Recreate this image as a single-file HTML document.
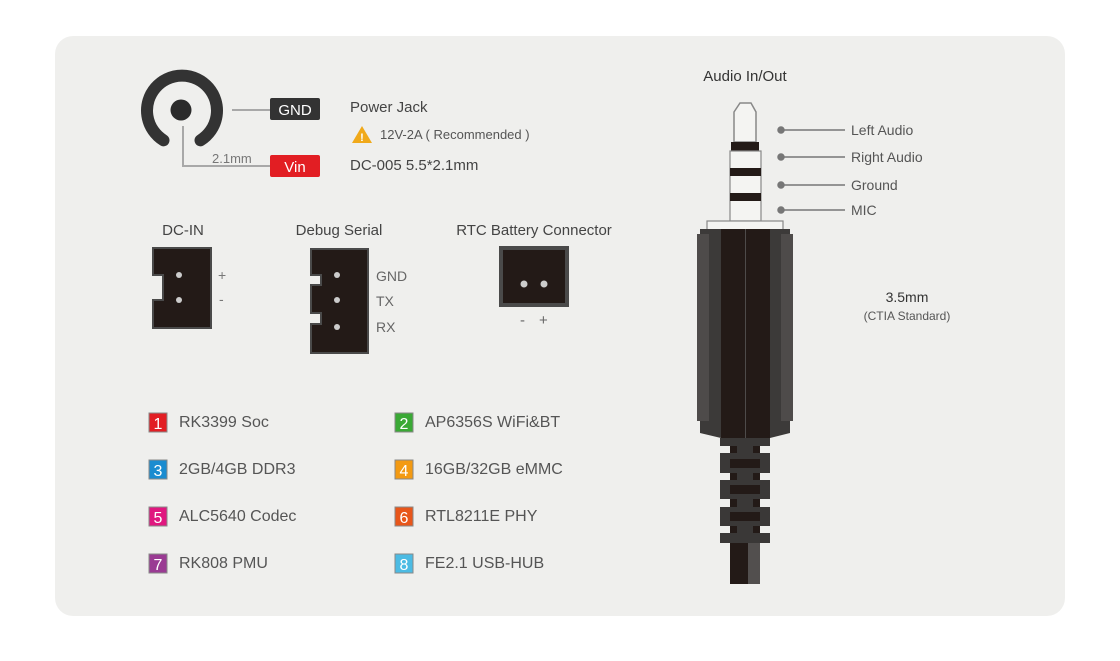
<!DOCTYPE html>
<html><head><meta charset="utf-8"><style>
html,body{margin:0;padding:0;background:#fff;}
body{width:1120px;height:656px;overflow:hidden;font-family:"Liberation Sans",sans-serif;}
</style></head><body>
<svg width="1120" height="656" viewBox="0 0 1120 656" xmlns="http://www.w3.org/2000/svg" font-family="Liberation Sans, sans-serif">
<rect x="55" y="36" width="1010" height="580" rx="18" fill="#efefed"/>
<!-- power jack -->
<path d="M163.5 140.3 A35 35 0 1 1 200.5 140.3" fill="none" stroke="#333333" stroke-width="12" stroke-linecap="round"/>
<circle cx="181" cy="110" r="10.5" fill="#2b2b2b"/>
<polyline points="183,126 183,166 270,166" fill="none" stroke="#a8a8a8" stroke-width="2"/>
<line x1="232" y1="110" x2="270" y2="110" stroke="#a8a8a8" stroke-width="2"/>
<text x="212" y="163" font-size="13" fill="#777">2.1mm</text>
<rect x="270" y="98" width="50" height="22" rx="2" fill="#333"/>
<text x="295" y="115" font-size="15" fill="#fff" text-anchor="middle">GND</text>
<rect x="270" y="155" width="50" height="22" rx="2" fill="#e21e23"/>
<text x="295" y="172" font-size="15" fill="#fff" text-anchor="middle">Vin</text>
<text x="350" y="112" font-size="15" fill="#444">Power Jack</text>
<polygon points="362,126 352,143 372,143" fill="#f0a91a"/>
<text x="362" y="141" font-size="11" font-weight="bold" fill="#fff" text-anchor="middle">!</text>
<text x="380" y="139" font-size="13" fill="#555">12V-2A ( Recommended )</text>
<text x="350" y="170" font-size="15" fill="#444">DC-005 5.5*2.1mm</text>
<!-- connectors -->
<text x="183" y="235" font-size="15" fill="#444" text-anchor="middle">DC-IN</text>
<text x="339" y="235" font-size="15" fill="#444" text-anchor="middle">Debug Serial</text>
<text x="534" y="235" font-size="15" fill="#444" text-anchor="middle">RTC Battery Connector</text>
<path d="M153 248 H211 V328 H153 V300 H163 V275 H153 Z" fill="#231a17" stroke="#4a4a4a" stroke-width="2"/>
<circle cx="179" cy="275" r="3" fill="#ccc"/><circle cx="179" cy="300" r="3" fill="#ccc"/>
<text x="218" y="280" font-size="14" fill="#777">+</text><text x="219" y="304" font-size="14" fill="#777">-</text>
<path d="M311 249 H368 V353 H311 V324 H321 V313 H311 V285 H321 V275 H311 Z" fill="#231a17" stroke="#4a4a4a" stroke-width="2"/>
<circle cx="337" cy="275" r="3" fill="#ccc"/><circle cx="337" cy="300" r="3" fill="#ccc"/><circle cx="337" cy="327" r="3" fill="#ccc"/>
<text x="376" y="281" font-size="14" fill="#666">GND</text>
<text x="376" y="306" font-size="14" fill="#666">TX</text>
<text x="376" y="332" font-size="14" fill="#666">RX</text>
<rect x="501" y="248" width="66" height="57" fill="#231a17" stroke="#4a4a4a" stroke-width="4"/>
<circle cx="524" cy="284" r="3.5" fill="#ccc"/><circle cx="544" cy="284" r="3.5" fill="#ccc"/>
<text x="520" y="325" font-size="15" fill="#666">-</text><text x="539" y="325" font-size="15" fill="#666">+</text>
<!-- legend -->
<g font-size="16" fill="#555">
<rect x="149" y="413" width="18" height="19" fill="#e21e23" stroke="#888"/><text x="158" y="429" fill="#fff" text-anchor="middle">1</text><text x="179" y="427">RK3399 Soc</text>
<rect x="395" y="413" width="18" height="19" fill="#3aa935" stroke="#888"/><text x="404" y="429" fill="#fff" text-anchor="middle">2</text><text x="425" y="427">AP6356S WiFi&amp;BT</text>
<rect x="149" y="460" width="18" height="19" fill="#1a8cd0" stroke="#888"/><text x="158" y="476" fill="#fff" text-anchor="middle">3</text><text x="179" y="474">2GB/4GB DDR3</text>
<rect x="395" y="460" width="18" height="19" fill="#f39a12" stroke="#888"/><text x="404" y="476" fill="#fff" text-anchor="middle">4</text><text x="425" y="474">16GB/32GB eMMC</text>
<rect x="149" y="507" width="18" height="19" fill="#e0177f" stroke="#888"/><text x="158" y="523" fill="#fff" text-anchor="middle">5</text><text x="179" y="521">ALC5640 Codec</text>
<rect x="395" y="507" width="18" height="19" fill="#e8561a" stroke="#888"/><text x="404" y="523" fill="#fff" text-anchor="middle">6</text><text x="425" y="521">RTL8211E PHY</text>
<rect x="149" y="554" width="18" height="19" fill="#9a3b93" stroke="#888"/><text x="158" y="570" fill="#fff" text-anchor="middle">7</text><text x="179" y="568">RK808 PMU</text>
<rect x="395" y="554" width="18" height="19" fill="#4cbbe3" stroke="#888"/><text x="404" y="570" fill="#fff" text-anchor="middle">8</text><text x="425" y="568">FE2.1 USB-HUB</text>
</g>
<!-- audio jack -->
<text x="745" y="81" font-size="15" fill="#333" text-anchor="middle">Audio In/Out</text>
<path d="M734 112 L740 103 H751 L756 112 V142 H734 Z" fill="#f4f4f2" stroke="#888" stroke-width="1.5"/>
<rect x="731" y="142" width="28" height="9" fill="#231a17"/>
<rect x="730" y="151" width="31" height="70" fill="#f4f4f2" stroke="#888" stroke-width="1.2"/>
<rect x="730" y="168" width="31" height="8" fill="#231a17"/>
<rect x="730" y="193" width="31" height="8" fill="#231a17"/>
<rect x="707" y="221" width="76" height="9" fill="#f4f4f2" stroke="#888" stroke-width="1.2"/>
<rect x="700" y="229" width="90" height="6" fill="#3c3a39"/>
<rect x="697" y="234" width="96" height="187" fill="#4e4b4a"/>
<rect x="709" y="234" width="72" height="187" fill="#3c3a39"/>
<rect x="721" y="229" width="49" height="209" fill="#231a17"/>
<line x1="745.5" y1="229" x2="745.5" y2="438" stroke="#4e4b4a" stroke-width="1"/>
<path d="M700 421 H721 V438 L700 433 Z" fill="#3c3a39"/>
<path d="M790 421 H770 V438 L790 433 Z" fill="#3c3a39"/>
<rect x="720" y="438" width="50" height="105" fill="#3a3837"/>
<g fill="#231a17">
<rect x="730" y="446" width="30" height="7"/><rect x="730" y="473" width="30" height="7"/><rect x="730" y="499" width="30" height="8"/><rect x="730" y="526" width="30" height="7"/>
<rect x="730" y="459" width="30" height="9"/><rect x="730" y="485" width="30" height="9"/><rect x="730" y="512" width="30" height="9"/>
</g>
<g fill="#efefed">
<rect x="719" y="446" width="11" height="7"/><rect x="760" y="446" width="11" height="7"/>
<rect x="719" y="473" width="11" height="7"/><rect x="760" y="473" width="11" height="7"/>
<rect x="719" y="499" width="11" height="8"/><rect x="760" y="499" width="11" height="8"/>
<rect x="719" y="526" width="11" height="7"/><rect x="760" y="526" width="11" height="7"/>
</g>
<g fill="#3a3837"><rect x="737" y="446" width="16" height="7"/><rect x="737" y="473" width="16" height="7"/><rect x="737" y="499" width="16" height="8"/><rect x="737" y="526" width="16" height="7"/></g>
<rect x="730" y="543" width="30" height="41" fill="#231a17"/>
<rect x="748" y="543" width="12" height="41" fill="#524f4e"/>
<g stroke="#777" stroke-width="1.5" fill="#777">
<circle cx="781" cy="130" r="3"/><line x1="781" y1="130" x2="845" y2="130"/>
<circle cx="781" cy="157" r="3"/><line x1="781" y1="157" x2="845" y2="157"/>
<circle cx="781" cy="185" r="3"/><line x1="781" y1="185" x2="845" y2="185"/>
<circle cx="781" cy="210" r="3"/><line x1="781" y1="210" x2="845" y2="210"/>
</g>
<g font-size="14" fill="#555">
<text x="851" y="135">Left Audio</text><text x="851" y="162">Right Audio</text><text x="851" y="190">Ground</text><text x="851" y="215">MIC</text>
</g>
<text x="907" y="302" font-size="14" fill="#333" text-anchor="middle">3.5mm</text>
<text x="907" y="320" font-size="12" fill="#555" text-anchor="middle">(CTIA Standard)</text>
</svg>
</body></html>
